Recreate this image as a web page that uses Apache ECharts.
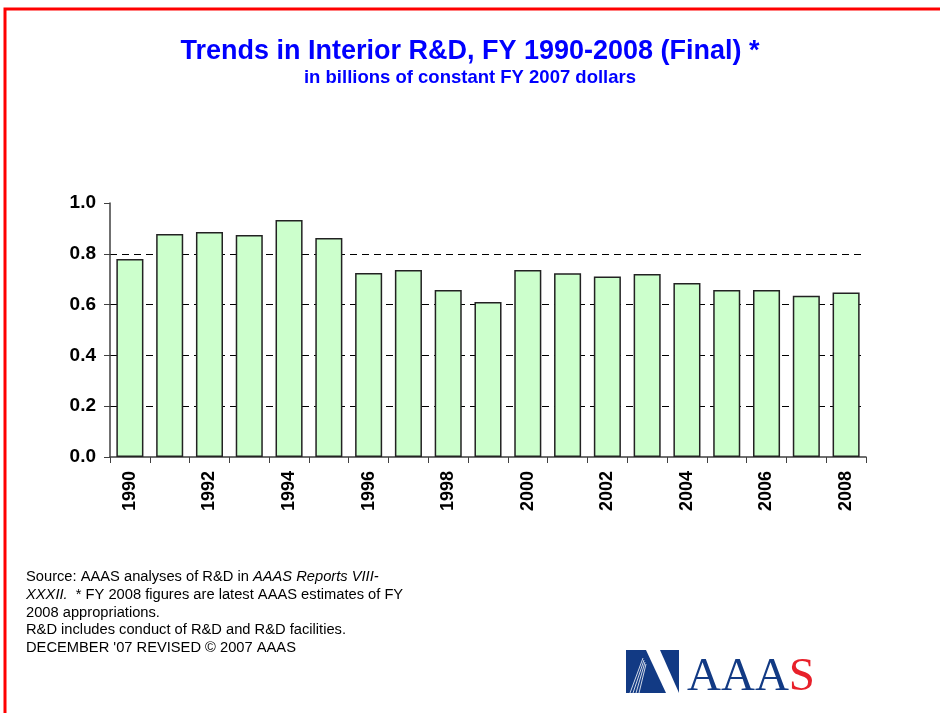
<!DOCTYPE html>
<html><head><meta charset="utf-8">
<script src="https://cdn.jsdelivr.net/npm/echarts@6/dist/echarts.min.js"></script>
<style>html,body{margin:0;padding:0;background:#fff}#c{width:940px;height:713px}</style>
</head><body><div id="c"></div>
<script>
const years = ['1990','1991','1992','1993','1994','1995','1996','1997','1998','1999','2000','2001','2002','2003','2004','2005','2006','2007','2008'];
const values = [0.78,0.878,0.886,0.874,0.933,0.862,0.724,0.736,0.657,0.610,0.736,0.723,0.711,0.720,0.685,0.657,0.657,0.635,0.648];
const yTicks = [0,0.2,0.4,0.6,0.8,1.0];
const titleText = 'Trends in Interior R&D, FY 1990-2008 (Final) *';
const subtitleText = 'in billions of constant FY 2007 dollars';

const chart = echarts.init(document.getElementById('c'), null, {renderer:'canvas'});
const ft = 'Arial, "Liberation Sans", sans-serif';
chart.setOption({
  animation:false,
  backgroundColor:'#fff',
  title:{text:titleText, subtext:subtitleText, left:'center', top:33, itemGap:3,
    textStyle:{color:'#0000ff', fontFamily:ft, fontWeight:'bold', fontSize:27},
    subtextStyle:{color:'#0000ff', fontFamily:ft, fontWeight:'bold', fontSize:18.5}},
  grid:{left:110, right:74, top:203, bottom:256},
  xAxis:{type:'category', data:years, boundaryGap:true,
    axisLine:{lineStyle:{color:'#404040', width:1.5}},
    axisTick:{show:true, alignWithLabel:false, interval:0, length:6, lineStyle:{color:'#404040'}},
    axisLabel:{interval:1, rotate:90, margin:14, color:'#000', fontFamily:ft, fontWeight:'bold', fontSize:18},
  },
  yAxis:{type:'value', min:yTicks[0], max:yTicks[yTicks.length-1], interval:0.2,
    axisLine:{show:true, lineStyle:{color:'#404040', width:1.5}},
    axisTick:{show:true, length:6, lineStyle:{color:'#404040'}},
    axisLabel:{color:'#000', fontFamily:ft, fontWeight:'bold', fontSize:19, margin:14,
      formatter:v=>v.toFixed(1)},
    splitLine:{show:true, lineStyle:{type:[7,5], width:1, color:['rgba(0,0,0,0)','#000','#000','#000','#000','rgba(0,0,0,0)']}}},
  series:[{type:'bar', data:values, barWidth:'68%',
    itemStyle:{color:'#ccffcc', borderColor:'#222', borderWidth:1.5}}],
  graphic:[
    {type:'rect', shape:{x:5, y:9, width:940, height:710}, style:{fill:'none', stroke:'#ff0000', lineWidth:3}, silent:true},
    {type:'text', left:26, top:568, style:{fontFamily:ft, fontSize:14.7, lineHeight:17.8, fill:'#000',
      text:'Source: AAAS analyses of R&D in {i|AAAS Reports VIII-}\n{i|XXXII.}  * FY 2008 figures are latest AAAS estimates of FY\n2008 appropriations.\nR&D includes conduct of R&D and R&D facilities.\nDECEMBER \'07 REVISED © 2007 AAAS',
      rich:{i:{fontStyle:'italic', fontFamily:ft, fontSize:14.7}}}},
    {type:'group', left:626, top:650, children:[
      {type:'rect', shape:{x:0, y:0, width:53, height:43}, style:{fill:'#123a84'}},
      {type:'polygon', shape:{points:[[20,0],[34,0],[53,43],[40,43]]}, style:{fill:'#fff'}},
      {type:'polyline', shape:{points:[[17,8],[4,43]]}, style:{stroke:'#fff', lineWidth:0.8}},
      {type:'polyline', shape:{points:[[18,10],[7,43]]}, style:{stroke:'#fff', lineWidth:0.8}},
      {type:'polyline', shape:{points:[[19,12],[10,43]]}, style:{stroke:'#fff', lineWidth:0.8}},
      {type:'polyline', shape:{points:[[20,14],[13,43]]}, style:{stroke:'#fff', lineWidth:0.8}}
    ]},
    {type:'text', left:687, top:654, style:{text:'{a|AAA}{s|S}', rich:{
      a:{fontFamily:'"Liberation Serif", "DejaVu Serif", serif', fontSize:47, fill:'#123a84'},
      s:{fontFamily:'"Liberation Serif", "DejaVu Serif", serif', fontSize:47, fill:'#e8202a'}}}}
  ]
});
</script></body></html>
